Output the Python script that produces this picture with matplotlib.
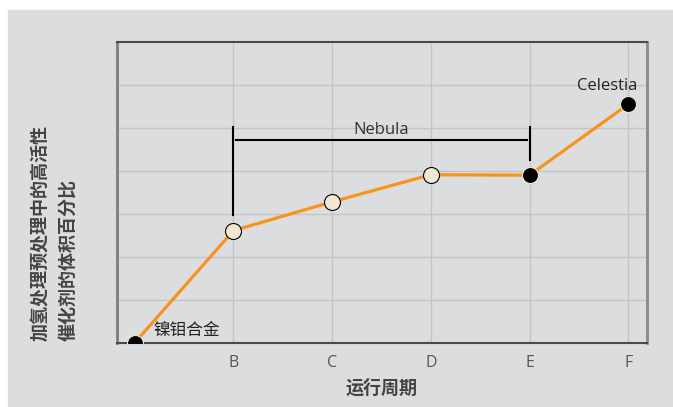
import matplotlib
matplotlib.use("Agg")
import matplotlib.pyplot as plt
from matplotlib.patches import Rectangle

# ---- data ----
x_labels = ['', 'B', 'C', 'D', 'E', 'F']
values = [0, 26.1, 32.8, 39.1, 39.0, 55.5]
marker_fill = ['black', '#f1e6d2', '#f1e6d2', '#f1e6d2', 'black', 'black']
y_label = '加氢处理预处理中的高活性\n催化剂的体积百分比'
x_label = '运行周期'
bracket_name = 'Nebula'
bracket_from, bracket_to = 1, 4

latin = ['Open Sans', 'DejaVu Sans']
cjk = ['Noto Sans CJK SC', 'DejaVu Sans']

fig = plt.figure(figsize=(6.73, 4.07), dpi=100, facecolor='white')
fig.patches.append(Rectangle((8 / 673, 0), 1, (407 - 10) / 407,
                             transform=fig.transFigure, color='#dcdddf', zorder=-10))

ax = fig.add_axes([117 / 673, (407 - 342.7) / 407, 530 / 673, 300.7 / 407])
ax.set_facecolor('#dcdddf')

xs = list(range(len(values)))
ax.plot(xs, values, color='#f7941d', lw=2.3, zorder=3)
for x, v, c in zip(xs, values, marker_fill):
    ec = 'black' if c != 'black' else '#f1e6d2'
    ax.plot(x, v, 'o', ms=11.5, mfc=c, mec=ec, mew=0.8, zorder=4)

ax.set_xlim(-0.18, 5.19)
ax.set_ylim(0, 70)
ax.set_xticks(xs[1:])
ax.set_xticklabels(x_labels[1:], family=latin, fontsize=11.5, color='#555555')
ax.tick_params(axis='x', length=0, pad=9)
ax.set_yticks(range(10, 70, 10))
ax.tick_params(axis='y', length=0, labelleft=False)
ax.grid(True, color='#c4c4c4', lw=1, zorder=0)
ax.set_axisbelow(True)

for side, col, w in [('left', '#7d7d7d', 2), ('right', '#8a8a8a', 2),
                     ('top', '#4a4a4a', 1.5), ('bottom', '#4a4a4a', 1.5)]:
    ax.spines[side].set_color(col)
    ax.spines[side].set_linewidth(w)

# bracket over the Nebula section
top = 50.1
gap = 3.6
ax.plot([bracket_from, bracket_from], [values[bracket_from] + gap, top], color='black', lw=1.5, zorder=2)
ax.plot([bracket_to, bracket_to], [values[bracket_to] + gap, top], color='black', lw=1.5, zorder=2)
ax.plot([bracket_from + 0.03, bracket_to - 0.03], [47.3, 47.3], color='black', lw=1.5, zorder=2)
ax.text((bracket_from + bracket_to) / 2, 47.7, bracket_name, ha='center', va='bottom',
        family=latin, fontsize=12, color='#333333')

ax.text(4.79, 57.8, 'Celestia', ha='center', va='bottom', family=latin, fontsize=12, color='#222222')
ax.text(0.19, 2.8, '镍钼合金', ha='left', va='center', family=cjk, fontsize=12, color='#222222')

ax.set_xlabel(x_label, family=cjk, fontsize=13, fontweight='bold', color='#444444', labelpad=5)
fig.text(55 / 673, (407 - 341) / 407, y_label, rotation=90, ha='center', va='bottom',
         multialignment='left', family=cjk, fontsize=13, fontweight='bold',
         color='#444444', linespacing=1.6)

fig.savefig('out.png', dpi=100, facecolor=fig.get_facecolor())
